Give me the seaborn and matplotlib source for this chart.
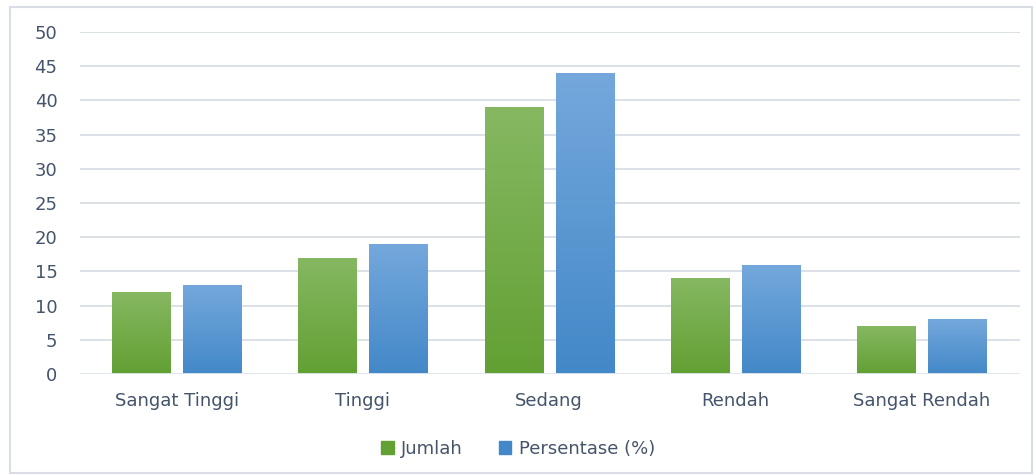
import seaborn as sns
import pandas as pd
import numpy as np
import matplotlib.pyplot as plt
from matplotlib.colors import LinearSegmentedColormap
from matplotlib.patches import Rectangle

# data
categories = ["Sangat Tinggi", "Tinggi", "Sedang", "Rendah", "Sangat Rendah"]
jumlah = [12, 17, 39, 14, 7]
persentase = [13, 19, 44, 16, 8]
series_names = ["Jumlah", "Persentase (%)"]

df = pd.DataFrame({
    "kategori": categories * 2,
    "nilai": jumlah + persentase,
    "seri": [series_names[0]] * len(categories) + [series_names[1]] * len(categories),
})

sns.set_theme(style="white")
plt.rcParams['font.family'] = ['DejaVu Sans']

text_col = "#44546A"
grid_col = "#D9DEE6"
green_top, green_bot = "#86B862", "#62A033"
blue_top, blue_bot = "#74A8DC", "#4388C8"
fs = 13

fig = plt.figure(figsize=(10.36, 4.75), dpi=100)
ax = fig.add_axes([0.077, 0.2126, 0.908, 0.72])

ax = sns.barplot(data=df, x="kategori", y="nilai", hue="seri",
                 palette=[green_bot, blue_bot], width=0.763, gap=0.18,
                 legend=False, ax=ax, zorder=3)

# vertical gradient fill for each bar
cmaps = {
    0: LinearSegmentedColormap.from_list("g", [green_bot, green_top]),
    1: LinearSegmentedColormap.from_list("b", [blue_bot, blue_top]),
}
grad = np.linspace(0, 1, 256).reshape(-1, 1)
n = len(categories)
for i, p in enumerate(ax.patches[:2 * n]):
    x0, y0 = p.get_x(), p.get_y()
    w, h = p.get_width(), p.get_height()
    im = ax.imshow(grad, cmap=cmaps[i // n], origin="lower", aspect="auto",
                   extent=[x0, x0 + w, y0, y0 + h], zorder=3)
    im.set_clip_path(p)
    p.set_facecolor("none")
    p.set_edgecolor("none")

ax.set_ylim(0, 50)
ax.set_xlim(-0.52, 4.53)
ax.set_yticks(range(0, 51, 5))
ax.yaxis.grid(True, color=grid_col, linewidth=1.3)
ax.set_axisbelow(True)
ax.axhline(0, color="#E3E8EE", linewidth=1.3, zorder=4)
for s in ax.spines.values():
    s.set_visible(False)
ax.set_xlabel("")
ax.set_ylabel("")
ax.tick_params(axis="y", length=0, pad=16, labelsize=fs, labelcolor=text_col)
ax.tick_params(axis="x", length=0, pad=13, labelsize=fs, labelcolor=text_col)

handles = [Rectangle((0, 0), 1, 1, color=green_bot), Rectangle((0, 0), 1, 1, color=blue_bot)]
fig.legend(handles, series_names, loc="center", bbox_to_anchor=(0.5, 0.055), ncol=2,
           frameon=False, fontsize=fs, labelcolor=text_col, handlelength=0.7,
           handleheight=0.7, handletextpad=0.4, columnspacing=2.0)

# figure border
fig.patches.append(Rectangle((0.0097, 0.004), 0.986, 0.981, transform=fig.transFigure,
                             fill=False, edgecolor=grid_col, linewidth=1.5))

fig.savefig("out.png", dpi=100)
